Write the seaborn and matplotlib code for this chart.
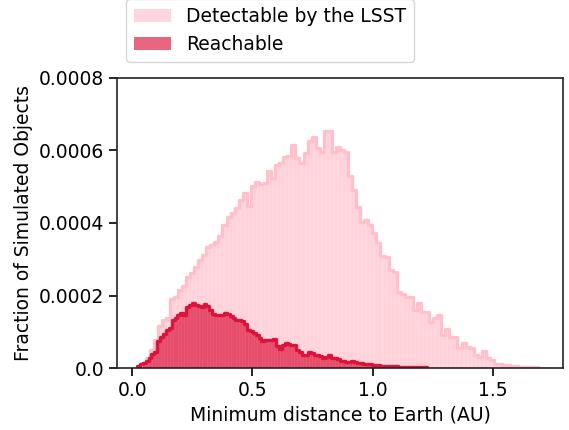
"""Minimum Earth distance histograms: detectable vs reachable objects."""

import matplotlib

matplotlib.use("Agg")
import matplotlib.pyplot as plt
import numpy as np
import seaborn as sns
from matplotlib.patches import Patch

# bin ranges (AU), 100 bins each
detect_range = (0.022, 1.706)
reach_range = (0.020, 1.224)

# fraction of simulated objects per bin
detectable = [
    0.0000055, 0.0000138, 0.0000276, 0.0000497, 0.0000772, 0.000116, 0.000132, 0.000138, 0.000190, 0.000196,
    0.000215, 0.000226, 0.000251, 0.000262, 0.000279, 0.000298, 0.000312, 0.000334, 0.000339, 0.000348,
    0.000364, 0.000394, 0.000417, 0.000428, 0.000441, 0.000463, 0.000483, 0.000447, 0.000502, 0.000513,
    0.000508, 0.000510, 0.000543, 0.000524, 0.000560, 0.000566, 0.000582, 0.000585, 0.000615, 0.000579,
    0.000566, 0.000593, 0.000626, 0.000637, 0.000607, 0.000596, 0.000654, 0.000654, 0.000596, 0.000610,
    0.000601, 0.000596, 0.000530, 0.000491, 0.000444, 0.000403, 0.000408, 0.000394, 0.000372, 0.000345,
    0.000309, 0.000306, 0.000270, 0.000265, 0.000210, 0.000204, 0.000196, 0.000196, 0.000160, 0.000179,
    0.000154, 0.000154, 0.000127, 0.000138, 0.000146, 0.000091, 0.000108, 0.0000855, 0.0000855, 0.0000552,
    0.000069, 0.000058, 0.000055, 0.000036, 0.000030, 0.000047, 0.000028, 0.000022, 0.000011, 0.000011,
    0.0000083, 0.0000083, 0.0000055, 0.0000055, 0.0000028, 0.0000028, 0.0000028, 0.0000028, 0.0000028, 0.0000014,
]
reachable = [
    0.0000055, 0.000011, 0.0000138, 0.0000193, 0.0000276, 0.0000386, 0.0000441, 0.0000745, 0.0000855, 0.0000938,
    0.000105, 0.000110, 0.000132, 0.000138, 0.000146, 0.000152, 0.000146, 0.000168, 0.000174, 0.000179,
    0.000174, 0.000171, 0.000168, 0.000177, 0.000171, 0.000160, 0.000149, 0.000146, 0.000146, 0.000146,
    0.000152, 0.000149, 0.000143, 0.000138, 0.000132, 0.000132, 0.000130, 0.000121, 0.000105, 0.000102,
    0.0000966, 0.0000910, 0.0000828, 0.0000745, 0.0000772, 0.0000772, 0.0000772, 0.0000800, 0.0000607, 0.0000524,
    0.0000634, 0.0000690, 0.0000662, 0.0000634, 0.0000634, 0.0000497, 0.0000441, 0.0000359, 0.0000359, 0.0000441,
    0.0000414, 0.0000359, 0.0000359, 0.0000331, 0.0000276, 0.0000303, 0.0000359, 0.0000276, 0.0000276, 0.0000248,
    0.0000193, 0.0000193, 0.0000166, 0.0000166, 0.0000193, 0.0000166, 0.0000138, 0.0000138, 0.000011, 0.000011,
    0.000011, 0.0000083, 0.0000083, 0.0000083, 0.0000055, 0.0000055, 0.0000055, 0.0000055, 0.0000055, 0.0000055,
    0.0000028, 0.0000028, 0.0000028, 0.0000028, 0.0000028, 0.0000028, 0.0000028, 0.0000028, 0.0000028, 0.0000028,
]
series_labels = ["Detectable by the LSST", "Reachable"]
series_colors = ["pink", "crimson"]
y_ticks = [0.0, 0.0002, 0.0004, 0.0006, 0.0008]
y_ticklabels = ["0.0", "0.0002", "0.0004", "0.0006", "0.0008"]
x_ticks = [0.0, 0.5, 1.0, 1.5]

sns.set_style("ticks")
plt.rcParams["font.family"] = ["DejaVu Sans"]
plt.rcParams.update({
    "font.size": 13.5,
    "text.color": "black",
    "axes.labelcolor": "black",
    "xtick.color": "black",
    "ytick.color": "black",
    "axes.edgecolor": "#222222",
    "axes.linewidth": 1.2,
    "xtick.major.size": 6,
    "ytick.major.size": 6,
    "xtick.major.width": 1.2,
    "ytick.major.width": 1.2,
})

fig, ax = plt.subplots(figsize=(5.69, 4.30), dpi=100)
fig.subplots_adjust(left=0.206, right=0.989, top=0.819, bottom=0.144)

for values, rng, color in zip([detectable, reachable], [detect_range, reach_range], series_colors):
    edges = np.linspace(rng[0], rng[1], len(values) + 1).tolist()
    centers = [0.5 * (a + b) for a, b in zip(edges[:-1], edges[1:])]
    sns.histplot(x=centers, weights=values, bins=edges, element="bars", fill=True,
                 color=color, alpha=0.65, linewidth=0.1, edgecolor=color, ax=ax)
    sns.histplot(x=centers, weights=values, bins=edges, element="step", fill=False,
                 color=color, linewidth=2.4, ax=ax)

ax.set_ylim(0, 0.0008)
ax.set_xlim(-0.062, 1.79)
ax.set_yticks(y_ticks)
ax.set_yticklabels(y_ticklabels)
ax.set_xticks(x_ticks)
ax.set_xlabel("Minimum distance to Earth (AU)")
ax.set_ylabel("Fraction of Simulated Objects")

handles = [Patch(facecolor=c, alpha=0.65, edgecolor="none") for c in series_colors]
ax.legend(handles, series_labels, loc="upper left", bbox_to_anchor=(0.02, 1.27),
          frameon=True, fontsize=13.5, borderaxespad=0)

fig.savefig("out.png", dpi=100)
plt.close(fig)
